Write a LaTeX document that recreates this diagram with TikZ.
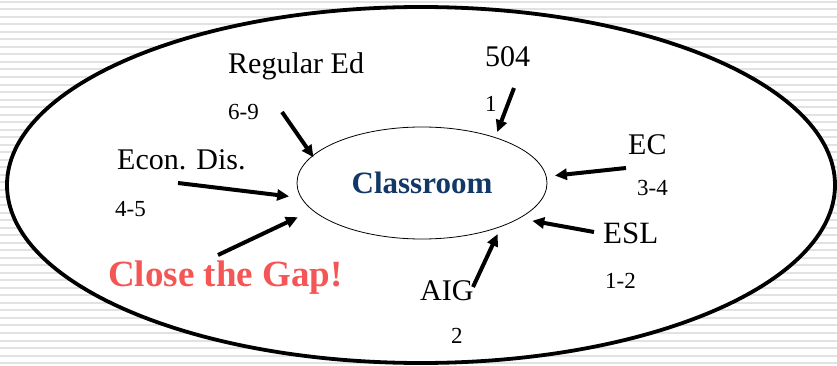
\documentclass[tikz,border=0pt]{standalone}
\usepackage{fontspec}
\setmainfont{Liberation Serif}
\usepackage{xcolor}
\definecolor{roomblue}{RGB}{17,56,102}
\definecolor{gapred}{RGB}{245,85,85}
\definecolor{stripegray}{RGB}{226,226,226}
\usepackage{tikz}
\usetikzlibrary{arrows.meta, shapes.geometric}
\tikzset{
  feed/.style={line width=4pt, -{Triangle[length=12pt,width=11pt]}},
  group/.style={anchor=base west, inner sep=0pt, font=\fontsize{30}{36}\selectfont},
  count/.style={anchor=base west, inner sep=0pt, font=\fontsize{23}{28}\selectfont},
}

\begin{document}
\begin{tikzpicture}[x=1pt, y=-1pt]
      \useasboundingbox (0,0) rectangle (837,366);
      \foreach \i in {0,...,48}
            \draw[stripegray, line width=2pt] (0,{1.7+7.53*\i}) -- (837,{1.7+7.53*\i});
      \draw[fill=white, line width=3.8pt]
            (421,185) ellipse [x radius=414pt, y radius=178pt];
      \node[ellipse, draw, line width=0.8pt, minimum width=250pt, minimum height=112pt,
            inner sep=0pt, text=roomblue, font=\fontsize{31}{36}\selectfont\bfseries]
            (room) at (422,183) {Classroom};

      \node[group] (regular) at (228,74) {Regular Ed};
      \node[count] (regularn) at (228,120) {6-9};
      \node[group] (econ) at (117,170) {Econ. Dis.};
      \node[count] (econn) at (115,216) {4-5};
      \node[anchor=base west, inner sep=0pt, text=gapred,
            font=\fontsize{37}{42}\selectfont\bfseries] (gap) at (108,286) {Close the Gap!};
      \node[group] (sec) at (485,67) {504};
      \node[count] (secn) at (485,112) {1};
      \node[group] (ec) at (628,155) {EC};
      \node[count] (ecn) at (637,195) {3-4};
      \node[group, font=\fontsize{31}{36}\selectfont] (esl) at (603,243) {ESL};
      \node[count] (esln) at (605,288) {1-2};
      \node[group] (aig) at (420,300) {AIG};
      \node[count] (aign) at (451,343) {2};

      \coordinate (regtail) at (282,112);
      \coordinate (econtail) at (178,183);
      \coordinate (gaptail) at (218,255);
      \coordinate (sectail) at (514,88);
      \coordinate (ectail) at (626,168);
      \coordinate (esltail) at (594,232);
      \coordinate (aigtail) at (473,287);

      \draw[feed, shorten >=-2pt] (regtail) -- (room.166.6);
      \draw[feed, shorten >=12pt] (econtail) -- (room.187.3);
      \draw[feed, shorten >=16pt] (gaptail) -- (room.194.5);
      \draw[feed, shorten >=5.5pt] (sectail) -- (room.32.8);
      \draw[feed, shorten >=8.4pt] (ectail) -- (room.3.9);
      \draw[feed, shorten >=13pt] (esltail) -- (room.-20.2);
      \draw[feed, shorten >=8pt] (aigtail) -- (room.-29.7);
\end{tikzpicture}
\end{document}
